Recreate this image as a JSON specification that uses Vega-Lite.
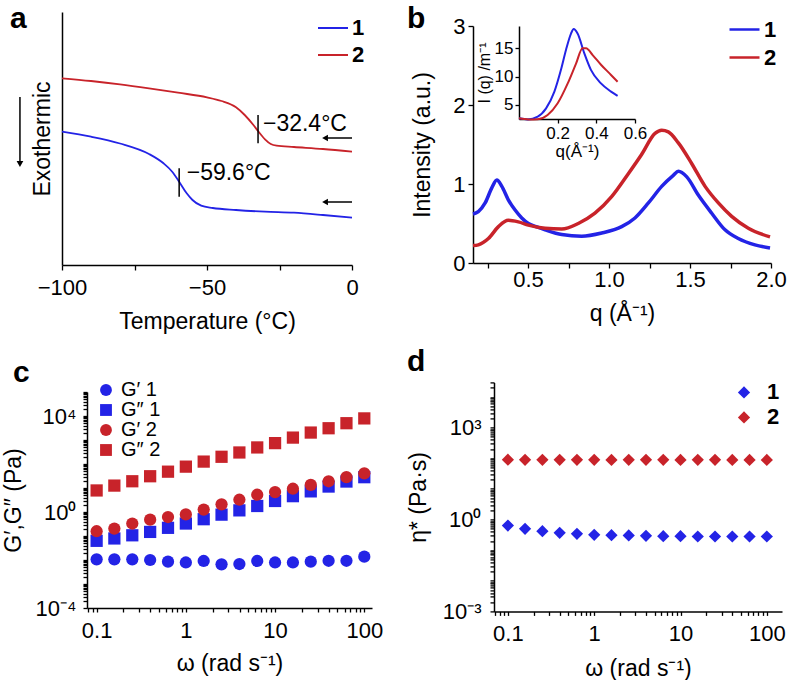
{
  "$schema": "https://vega.github.io/schema/vega-lite/v6.json",
  "background": "white",
  "padding": {"left": 2, "top": 4, "right": 0, "bottom": 0},
  "spacing": 24,
  "align": "none",
  "resolve": {"scale": {"color": "independent", "shape": "independent"}, "legend": {"color": "independent", "shape": "independent"}},
  "config": {
    "font": "Liberation Sans",
    "view": {"stroke": null},
    "axis": {"grid": false, "domainColor": "black", "domainWidth": 1.5, "tickColor": "black", "tickWidth": 1.3, "tickSize": 5, "labelColor": "black", "titleColor": "black", "labelFontSize": 22, "titleFontSize": 23, "titleFontWeight": "normal", "labelPadding": 3, "titlePadding": 6, "labelFlush": false, "labelOverlap": false},
    "legend": {"labelColor": "black", "labelFont": "Liberation Sans"},
    "title": {"fontSize": 30, "fontWeight": "bold", "anchor": "start", "frame": "group", "color": "black", "font": "Liberation Sans", "baseline": "alphabetic"}
  },
  "hconcat": [
    {
      "spacing": 25,
      "align": "none",
      "resolve": {"scale": {"color": "independent", "shape": "independent"}, "legend": {"color": "independent", "shape": "independent"}},
      "vconcat": [
        {
          "width": 290, "height": 253,
          "title": {"text": "a", "dx": -52, "offset": -22},
          "layer": [
            {
              "data": {"values": [
                {"T": -100, "H": 186.7, "s": "2"}, {"T": -90, "H": 184, "s": "2"}, {"T": -80, "H": 180.7, "s": "2"}, {"T": -70, "H": 176.7, "s": "2"}, {"T": -60, "H": 172.3, "s": "2"}, {"T": -50, "H": 167.7, "s": "2"}, {"T": -45, "H": 164, "s": "2"}, {"T": -40, "H": 157.7, "s": "2"}, {"T": -37, "H": 150, "s": "2"}, {"T": -34, "H": 140, "s": "2"}, {"T": -32.4, "H": 134, "s": "2"}, {"T": -30, "H": 125.7, "s": "2"}, {"T": -28, "H": 121, "s": "2"}, {"T": -26, "H": 119.3, "s": "2"}, {"T": -20, "H": 118, "s": "2"}, {"T": -10, "H": 116, "s": "2"}, {"T": 0, "H": 113.3, "s": "2"},
                {"T": -100, "H": 133.3, "s": "1"}, {"T": -90, "H": 128.3, "s": "1"}, {"T": -80, "H": 121.5, "s": "1"}, {"T": -70, "H": 111, "s": "1"}, {"T": -65, "H": 101.7, "s": "1"}, {"T": -62, "H": 93.3, "s": "1"}, {"T": -59.6, "H": 83.3, "s": "1"}, {"T": -57, "H": 71.7, "s": "1"}, {"T": -55, "H": 65, "s": "1"}, {"T": -52, "H": 59.3, "s": "1"}, {"T": -48, "H": 57, "s": "1"}, {"T": -40, "H": 55, "s": "1"}, {"T": -30, "H": 53.3, "s": "1"}, {"T": -20, "H": 52.3, "s": "1"}, {"T": -10, "H": 50, "s": "1"}, {"T": 0, "H": 47.3, "s": "1"}
              ]},
              "mark": {"type": "line", "strokeWidth": 1.8, "interpolate": "monotone"},
              "encoding": {
                "x": {"field": "T", "type": "quantitative", "scale": {"domain": [-100, 0], "nice": false, "zero": false}, "axis": {"title": "Temperature (°C)", "values": [-100, -75, -50, -25, 0], "labelOverlap": false, "labelPadding": 7, "titlePadding": 12, "labelExpr": "datum.value % 50 == 0 ? datum.label : ''"}},
                "y": {"field": "H", "type": "quantitative", "scale": {"domain": [0, 253], "nice": false, "zero": false}, "axis": {"title": "Exothermic", "labels": false, "ticks": false, "titlePadding": 8}},
                "color": {"field": "s", "type": "nominal", "scale": {"domain": ["1", "2"], "range": ["#2323e6", "#c8232a"]}, "legend": {"orient": "none", "legendX": 255, "legendY": 0, "title": null, "symbolType": "stroke", "symbolSize": 900, "symbolStrokeWidth": 2, "labelFontSize": 22, "labelFontWeight": "bold", "labelOffset": 3, "rowPadding": -7, "padding": 0}}
              }
            },
            {
              "data": {"values": [{"T": -32.4, "y1": 150, "y2": 121.7}, {"T": -59.6, "y1": 96.7, "y2": 68.3}]},
              "mark": {"type": "rule", "strokeWidth": 1.5, "color": "black"},
              "encoding": {"x": {"field": "T", "type": "quantitative"}, "y": {"field": "y1", "type": "quantitative"}, "y2": {"field": "y2"}}
            },
            {
              "data": {"values": [{"T": -30.7, "H": 134.3, "txt": "−32.4°C"}, {"T": -57, "H": 85, "txt": "−59.6°C"}]},
              "mark": {"type": "text", "align": "left", "baseline": "alphabetic", "fontSize": 23, "color": "black"},
              "encoding": {"x": {"field": "T", "type": "quantitative"}, "y": {"field": "H", "type": "quantitative"}, "text": {"field": "txt"}}
            },
            {
              "data": {"values": [{"x1": -8.5, "x2": 0, "y": 127}, {"x1": -8.5, "x2": 0, "y": 63}]},
              "mark": {"type": "rule", "strokeWidth": 1.5, "color": "black"},
              "encoding": {"x": {"field": "x1", "type": "quantitative"}, "x2": {"field": "x2"}, "y": {"field": "y", "type": "quantitative"}}
            },
            {
              "data": {"values": [{"x": -9.3, "y": 127}, {"x": -9.3, "y": 63}]},
              "mark": {"type": "point", "shape": "triangle-left", "filled": true, "size": 45, "color": "black", "opacity": 1},
              "encoding": {"x": {"field": "x", "type": "quantitative"}, "y": {"field": "y", "type": "quantitative"}}
            },
            {
              "data": {"values": [{"x": -114.5, "y1": 168, "y2": 104}]},
              "mark": {"type": "rule", "strokeWidth": 1.5, "color": "black"},
              "encoding": {"x": {"field": "x", "type": "quantitative"}, "y": {"field": "y1", "type": "quantitative"}, "y2": {"field": "y2"}}
            },
            {
              "data": {"values": [{"x": -114.5, "y": 101}]},
              "mark": {"type": "point", "shape": "triangle-down", "filled": true, "size": 45, "color": "black", "opacity": 1},
              "encoding": {"x": {"field": "x", "type": "quantitative"}, "y": {"field": "y", "type": "quantitative"}}
            }
          ]
        },
        {
          "width": 310, "height": 216,
          "title": {"text": "c", "dx": -49, "offset": -8.3},
          "data": {"values": [
            {"w": 0.1, "G": 0.0107, "s": "G′ 1"}, {"w": 0.158, "G": 0.0107, "s": "G′ 1"}, {"w": 0.251, "G": 0.0107, "s": "G′ 1"}, {"w": 0.398, "G": 0.01, "s": "G′ 1"}, {"w": 0.631, "G": 0.0085, "s": "G′ 1"}, {"w": 1, "G": 0.0079, "s": "G′ 1"}, {"w": 1.585, "G": 0.0091, "s": "G′ 1"}, {"w": 2.512, "G": 0.0066, "s": "G′ 1"}, {"w": 3.981, "G": 0.0068, "s": "G′ 1"}, {"w": 6.31, "G": 0.0091, "s": "G′ 1"}, {"w": 10, "G": 0.0079, "s": "G′ 1"}, {"w": 15.85, "G": 0.0079, "s": "G′ 1"}, {"w": 25.12, "G": 0.0085, "s": "G′ 1"}, {"w": 39.81, "G": 0.0093, "s": "G′ 1"}, {"w": 63.1, "G": 0.0093, "s": "G′ 1"}, {"w": 100, "G": 0.0138, "s": "G′ 1"},
            {"w": 0.1, "G": 0.063, "s": "G″ 1"}, {"w": 0.158, "G": 0.079, "s": "G″ 1"}, {"w": 0.251, "G": 0.107, "s": "G″ 1"}, {"w": 0.398, "G": 0.148, "s": "G″ 1"}, {"w": 0.631, "G": 0.219, "s": "G″ 1"}, {"w": 1, "G": 0.331, "s": "G″ 1"}, {"w": 1.585, "G": 0.501, "s": "G″ 1"}, {"w": 2.512, "G": 0.776, "s": "G″ 1"}, {"w": 3.981, "G": 1.17, "s": "G″ 1"}, {"w": 6.31, "G": 1.78, "s": "G″ 1"}, {"w": 10, "G": 2.88, "s": "G″ 1"}, {"w": 15.85, "G": 4.57, "s": "G″ 1"}, {"w": 25.12, "G": 7.24, "s": "G″ 1"}, {"w": 39.81, "G": 11.5, "s": "G″ 1"}, {"w": 63.1, "G": 18.6, "s": "G″ 1"}, {"w": 100, "G": 28.2, "s": "G″ 1"},
            {"w": 0.1, "G": 0.158, "s": "G′ 2"}, {"w": 0.158, "G": 0.204, "s": "G′ 2"}, {"w": 0.251, "G": 0.331, "s": "G′ 2"}, {"w": 0.398, "G": 0.479, "s": "G′ 2"}, {"w": 0.631, "G": 0.617, "s": "G′ 2"}, {"w": 1, "G": 0.794, "s": "G′ 2"}, {"w": 1.585, "G": 1.26, "s": "G′ 2"}, {"w": 2.512, "G": 2.09, "s": "G′ 2"}, {"w": 3.981, "G": 3.24, "s": "G′ 2"}, {"w": 6.31, "G": 5.25, "s": "G′ 2"}, {"w": 10, "G": 6.76, "s": "G′ 2"}, {"w": 15.85, "G": 9.33, "s": "G′ 2"}, {"w": 25.12, "G": 13.5, "s": "G′ 2"}, {"w": 39.81, "G": 19.1, "s": "G′ 2"}, {"w": 63.1, "G": 28.2, "s": "G′ 2"}, {"w": 100, "G": 40.7, "s": "G′ 2"},
            {"w": 0.1, "G": 7.9, "s": "G″ 2"}, {"w": 0.158, "G": 12.6, "s": "G″ 2"}, {"w": 0.251, "G": 19.1, "s": "G″ 2"}, {"w": 0.398, "G": 30.9, "s": "G″ 2"}, {"w": 0.631, "G": 47.9, "s": "G″ 2"}, {"w": 1, "G": 77.6, "s": "G″ 2"}, {"w": 1.585, "G": 126, "s": "G″ 2"}, {"w": 2.512, "G": 200, "s": "G″ 2"}, {"w": 3.981, "G": 302, "s": "G″ 2"}, {"w": 6.31, "G": 490, "s": "G″ 2"}, {"w": 10, "G": 741, "s": "G″ 2"}, {"w": 15.85, "G": 1259, "s": "G″ 2"}, {"w": 25.12, "G": 2042, "s": "G″ 2"}, {"w": 39.81, "G": 3090, "s": "G″ 2"}, {"w": 63.1, "G": 5012, "s": "G″ 2"}, {"w": 100, "G": 7943, "s": "G″ 2"}
          ]},
          "mark": {"type": "point", "filled": true, "opacity": 1, "size": 150},
          "encoding": {
            "x": {"field": "w", "type": "quantitative", "scale": {"type": "log", "domain": [0.078, 122], "range": [25, 310], "nice": false}, "axis": {"title": "ω (rad s⁻¹)", "tickCount": 20, "tickSize": 4, "labelPadding": 8, "titlePadding": 11, "labelOverlap": false, "labelExpr": "abs(datum.value - 0.1) < 1e-9 ? '0.1' : abs(datum.value - 1) < 1e-9 ? '1' : abs(datum.value - 10) < 1e-9 ? '10' : abs(datum.value - 100) < 1e-9 ? '100' : ''"}},
            "y": {"field": "G", "type": "quantitative", "scale": {"type": "log", "domain": [0.0001, 100000], "nice": false}, "axis": {"title": "G′,G″ (Pa)", "offset": -25, "tickCount": 20, "tickSize": 4, "labelPadding": 7, "titlePadding": 9.5, "labelOverlap": false, "labelExpr": "abs(datum.value - 0.0001) < 1e-12 ? '10⁻⁴' : abs(datum.value - 1) < 1e-9 ? '10⁰' : abs(datum.value - 10000) < 1e-6 ? '10⁴' : ''"}},
            "color": {"field": "s", "type": "nominal", "scale": {"domain": ["G′ 1", "G″ 1", "G′ 2", "G″ 2"], "range": ["#2323e6", "#2323e6", "#c8232a", "#c8232a"]}, "legend": {"orient": "none", "legendX": 34, "legendY": -12, "title": null, "symbolSize": 140, "labelFontSize": 20, "labelOffset": 5, "rowPadding": 0, "padding": 0, "symbolOpacity": 1}},
            "shape": {"field": "s", "type": "nominal", "scale": {"domain": ["G′ 1", "G″ 1", "G′ 2", "G″ 2"], "range": ["circle", "square", "circle", "square"]}, "legend": {"orient": "none", "legendX": 34, "legendY": -12, "title": null, "symbolSize": 140, "labelFontSize": 20, "labelOffset": 5, "rowPadding": 0, "padding": 0, "symbolOpacity": 1}}
          }
        }
      ]
    },
    {
      "spacing": 21.4,
      "align": "none",
      "resolve": {"scale": {"color": "independent", "shape": "independent"}, "legend": {"color": "independent", "shape": "independent"}},
      "vconcat": [
        {
          "width": 298, "height": 251,
          "title": {"text": "b", "dx": -66, "offset": -22},
          "resolve": {"scale": {"x": "independent", "y": "independent"}},
          "layer": [
            {
              "data": {"values": [
                {"q": 0.16, "I": 0.62, "s": "1"}, {"q": 0.193, "I": 0.65, "s": "1"}, {"q": 0.235, "I": 0.76, "s": "1"}, {"q": 0.276, "I": 0.95, "s": "1"}, {"q": 0.307, "I": 1.05, "s": "1"}, {"q": 0.338, "I": 0.97, "s": "1"}, {"q": 0.378, "I": 0.8, "s": "1"}, {"q": 0.42, "I": 0.67, "s": "1"}, {"q": 0.461, "I": 0.57, "s": "1"}, {"q": 0.502, "I": 0.5, "s": "1"}, {"q": 0.55, "I": 0.46, "s": "1"}, {"q": 0.605, "I": 0.42, "s": "1"}, {"q": 0.708, "I": 0.36, "s": "1"}, {"q": 0.831, "I": 0.34, "s": "1"}, {"q": 0.955, "I": 0.38, "s": "1"}, {"q": 1.078, "I": 0.46, "s": "1"}, {"q": 1.16, "I": 0.57, "s": "1"}, {"q": 1.243, "I": 0.76, "s": "1"}, {"q": 1.325, "I": 0.97, "s": "1"}, {"q": 1.397, "I": 1.11, "s": "1"}, {"q": 1.428, "I": 1.16, "s": "1"}, {"q": 1.48, "I": 1.09, "s": "1"}, {"q": 1.551, "I": 0.86, "s": "1"}, {"q": 1.634, "I": 0.63, "s": "1"}, {"q": 1.716, "I": 0.42, "s": "1"}, {"q": 1.798, "I": 0.31, "s": "1"}, {"q": 1.901, "I": 0.23, "s": "1"}, {"q": 1.994, "I": 0.19, "s": "1"},
                {"q": 0.16, "I": 0.22, "s": "2"}, {"q": 0.193, "I": 0.23, "s": "2"}, {"q": 0.255, "I": 0.31, "s": "2"}, {"q": 0.317, "I": 0.46, "s": "2"}, {"q": 0.378, "I": 0.54, "s": "2"}, {"q": 0.44, "I": 0.52, "s": "2"}, {"q": 0.502, "I": 0.48, "s": "2"}, {"q": 0.605, "I": 0.44, "s": "2"}, {"q": 0.708, "I": 0.43, "s": "2"}, {"q": 0.81, "I": 0.5, "s": "2"}, {"q": 0.913, "I": 0.63, "s": "2"}, {"q": 1.016, "I": 0.84, "s": "2"}, {"q": 1.119, "I": 1.13, "s": "2"}, {"q": 1.2, "I": 1.37, "s": "2"}, {"q": 1.284, "I": 1.64, "s": "2"}, {"q": 1.325, "I": 1.68, "s": "2"}, {"q": 1.366, "I": 1.66, "s": "2"}, {"q": 1.428, "I": 1.52, "s": "2"}, {"q": 1.51, "I": 1.26, "s": "2"}, {"q": 1.593, "I": 0.97, "s": "2"}, {"q": 1.675, "I": 0.76, "s": "2"}, {"q": 1.757, "I": 0.59, "s": "2"}, {"q": 1.86, "I": 0.44, "s": "2"}, {"q": 1.994, "I": 0.33, "s": "2"}
              ]},
              "mark": {"type": "line", "strokeWidth": 3.5, "interpolate": "monotone"},
              "encoding": {
                "x": {"field": "q", "type": "quantitative", "scale": {"domain": [0.16, 2.0], "nice": false, "zero": false}, "axis": {"title": "q (Å⁻¹)", "values": [0.25, 0.5, 0.75, 1, 1.25, 1.5, 1.75, 2], "labelOverlap": false, "labelPadding": 1, "titlePadding": 12, "labelExpr": "datum.value == 0.5 || datum.value == 1 || datum.value == 1.5 || datum.value == 2 ? format(datum.value, '.1f') : ''"}},
                "y": {"field": "I", "type": "quantitative", "scale": {"domain": [0, 3], "range": [251, 14], "nice": false, "zero": false}, "axis": {"title": "Intensity (a.u.)", "values": [0, 1, 2, 3], "titlePadding": 18}},
                "color": {"field": "s", "type": "nominal", "scale": {"domain": ["1", "2"], "range": ["#2323e6", "#c8232a"]}, "legend": {"orient": "none", "legendX": 255, "legendY": 1, "title": null, "symbolType": "stroke", "symbolSize": 900, "symbolStrokeWidth": 2.5, "labelFontSize": 22, "labelFontWeight": "bold", "labelOffset": 3, "rowPadding": -6, "padding": 0}}
              }
            },
            {
              "data": {"values": [
                {"qi": 0.0, "Ii": 2.65, "s": "1"}, {"qi": 0.045, "Ii": 2.45, "s": "1"}, {"qi": 0.097, "Ii": 2.94, "s": "1"}, {"qi": 0.14, "Ii": 4.4, "s": "1"}, {"qi": 0.183, "Ii": 7.35, "s": "1"}, {"qi": 0.217, "Ii": 11.2, "s": "1"}, {"qi": 0.243, "Ii": 14.7, "s": "1"}, {"qi": 0.269, "Ii": 17.6, "s": "1"}, {"qi": 0.283, "Ii": 18.4, "s": "1"}, {"qi": 0.303, "Ii": 17.6, "s": "1"}, {"qi": 0.338, "Ii": 14.1, "s": "1"}, {"qi": 0.372, "Ii": 11.2, "s": "1"}, {"qi": 0.424, "Ii": 8.8, "s": "1"}, {"qi": 0.476, "Ii": 7.35, "s": "1"}, {"qi": 0.51, "Ii": 6.6, "s": "1"},
                {"qi": 0.0, "Ii": 2.65, "s": "2"}, {"qi": 0.05, "Ii": 2.45, "s": "2"}, {"qi": 0.097, "Ii": 2.5, "s": "2"}, {"qi": 0.148, "Ii": 3.24, "s": "2"}, {"qi": 0.2, "Ii": 5.3, "s": "2"}, {"qi": 0.252, "Ii": 8.8, "s": "2"}, {"qi": 0.295, "Ii": 12.3, "s": "2"}, {"qi": 0.329, "Ii": 15.0, "s": "2"}, {"qi": 0.347, "Ii": 15.0, "s": "2"}, {"qi": 0.381, "Ii": 13.8, "s": "2"}, {"qi": 0.424, "Ii": 12.1, "s": "2"}, {"qi": 0.476, "Ii": 10.3, "s": "2"}, {"qi": 0.51, "Ii": 9.1, "s": "2"}
              ]},
              "mark": {"type": "line", "strokeWidth": 2, "interpolate": "monotone"},
              "encoding": {
                "x": {"field": "qi", "type": "quantitative", "scale": {"domain": [0, 0.6], "range": [46, 162], "nice": false, "zero": false}, "axis": {"orient": "bottom", "offset": -144, "title": "q(Å⁻¹)", "values": [0.2, 0.4, 0.6], "format": ".1f", "labelFontSize": 17, "titleFontSize": 17, "tickSize": 4, "labelPadding": 2, "titlePadding": 2}},
                "y": {"field": "Ii", "type": "quantitative", "scale": {"domain": [2.53, 18.93], "range": [107, 14], "nice": false, "zero": false}, "axis": {"orient": "left", "offset": -46, "title": "I (q) /m⁻¹", "values": [5, 10, 15], "labelFontSize": 17, "titleFontSize": 16, "tickSize": 4, "labelPadding": 2, "titlePadding": 2}},
                "color": {"field": "s", "type": "nominal"}
              }
            }
          ]
        },
        {
          "width": 309, "height": 229,
          "title": {"text": "d", "dx": -66, "offset": -5.1},
          "data": {"values": [
            {"w": 0.1, "e": 0.637, "s": "1"}, {"w": 0.158, "e": 0.497, "s": "1"}, {"w": 0.251, "e": 0.417, "s": "1"}, {"w": 0.398, "e": 0.367, "s": "1"}, {"w": 0.631, "e": 0.341, "s": "1"}, {"w": 1, "e": 0.316, "s": "1"}, {"w": 1.585, "e": 0.308, "s": "1"}, {"w": 2.512, "e": 0.301, "s": "1"}, {"w": 3.981, "e": 0.293, "s": "1"}, {"w": 6.31, "e": 0.286, "s": "1"}, {"w": 10, "e": 0.286, "s": "1"}, {"w": 15.85, "e": 0.279, "s": "1"}, {"w": 25.12, "e": 0.279, "s": "1"}, {"w": 39.81, "e": 0.279, "s": "1"}, {"w": 63.1, "e": 0.279, "s": "1"}, {"w": 100, "e": 0.279, "s": "1"},
            {"w": 0.1, "e": 90, "s": "2"}, {"w": 0.158, "e": 89, "s": "2"}, {"w": 0.251, "e": 89, "s": "2"}, {"w": 0.398, "e": 89, "s": "2"}, {"w": 0.631, "e": 89, "s": "2"}, {"w": 1, "e": 89, "s": "2"}, {"w": 1.585, "e": 88, "s": "2"}, {"w": 2.512, "e": 89, "s": "2"}, {"w": 3.981, "e": 89, "s": "2"}, {"w": 6.31, "e": 89, "s": "2"}, {"w": 10, "e": 88, "s": "2"}, {"w": 15.85, "e": 89, "s": "2"}, {"w": 25.12, "e": 89, "s": "2"}, {"w": 39.81, "e": 88, "s": "2"}, {"w": 63.1, "e": 88, "s": "2"}, {"w": 100, "e": 88, "s": "2"}
          ]},
          "mark": {"type": "point", "shape": "diamond", "filled": true, "opacity": 1, "size": 150},
          "encoding": {
            "x": {"field": "w", "type": "quantitative", "scale": {"type": "log", "domain": [0.069, 150], "range": [21, 309], "nice": false}, "axis": {"title": "ω (rad s⁻¹)", "tickCount": 20, "tickSize": 4, "labelPadding": 8, "titlePadding": 13, "labelOverlap": false, "labelExpr": "abs(datum.value - 0.1) < 1e-9 ? '0.1' : abs(datum.value - 1) < 1e-9 ? '1' : abs(datum.value - 10) < 1e-9 ? '10' : abs(datum.value - 100) < 1e-9 ? '100' : ''"}},
            "y": {"field": "e", "type": "quantitative", "scale": {"type": "log", "domain": [0.001, 30000], "nice": false}, "axis": {"title": "η* (Pa·s)", "offset": -21, "tickCount": 20, "tickSize": 4, "labelPadding": 9, "titlePadding": 12, "labelOverlap": false, "labelExpr": "abs(datum.value - 0.001) < 1e-12 ? '10⁻³' : abs(datum.value - 1) < 1e-9 ? '10⁰' : abs(datum.value - 1000) < 1e-6 ? '10³' : ''"}},
            "color": {"field": "s", "type": "nominal", "scale": {"domain": ["1", "2"], "range": ["#2323e6", "#c8232a"]}, "legend": {"orient": "none", "legendX": 260, "legendY": -1, "title": null, "symbolType": "diamond", "symbolSize": 150, "symbolOpacity": 1, "labelFontSize": 22, "labelFontWeight": "bold", "labelOffset": 12, "rowPadding": 3, "padding": 0}}
          }
        }
      ]
    }
  ]
}
